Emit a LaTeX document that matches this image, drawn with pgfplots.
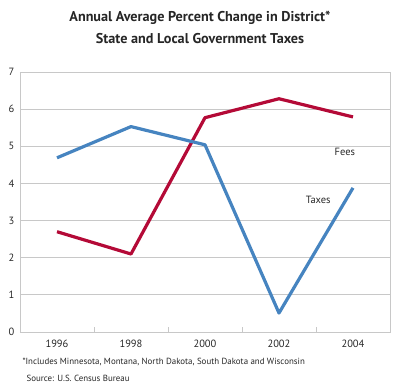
\documentclass[border=0pt]{standalone}
\usepackage{pgfplots}
\pgfplotsset{compat=1.18}
\usepackage{fontspec}
\setmainfont{PT Sans}
\definecolor{taxblue}{RGB}{70,132,192}
\definecolor{feered}{RGB}{180,10,55}
\definecolor{gridgray}{RGB}{200,200,200}
\begin{document}
\begin{tikzpicture}[x=1pt,y=1pt]
\useasboundingbox (0,0) rectangle (400,391);
\begin{axis}[
  at={(20pt,59pt)}, anchor=south west,
  scale only axis, width=370pt, height=260pt,
  xmin=-0.5, xmax=4.5, ymin=0, ymax=7,
  xtick={0,1,2,3,4},
  xticklabels={1996,1998,2000,2002,2004},
  ytick={0,1,...,7},
  major tick length=0pt,
  extra x ticks={0.5,1.5,2.5,3.5},
  extra x tick labels={},
  extra x tick style={major tick length=5pt, tick style={gridgray, line width=0.8pt}, xmajorgrids=false, tick pos=bottom, tick align=inside},
  ymajorgrids, grid style={gridgray, line width=0.8pt},
  axis line style={gridgray, line width=0.8pt},
  tick label style={font=\fontsize{10.5}{12}\selectfont, text=black!85},
  /pgf/number format/assume math mode=true,
  xticklabel style={yshift=-4pt},
  yticklabel style={xshift=-2pt},
  clip=false,
]
\addplot[feered, line width=3.2pt, line join=round] coordinates {(0,2.70) (1,2.10) (2,5.77) (3,6.28) (4,5.79)};
\addplot[taxblue, line width=3.2pt, line join=round] coordinates {(0,4.69) (1,5.53) (2,5.04) (3,0.51) (4,3.88)};
\node[font=\fontsize{10.5}{12}\selectfont, text=black!85] at (axis cs:3.89,4.85) {Fees};
\node[font=\fontsize{10.5}{12}\selectfont, text=black!85] at (axis cs:3.53,3.56) {Taxes};
\end{axis}
\node[font=\fontsize{14.2}{16}\selectfont\bfseries, text=black!85] at (200,373) {Annual Average Percent Change in District*};
\node[font=\fontsize{14.2}{16}\selectfont\bfseries, text=black!85] at (200,352) {State and Local Government Taxes};
\node[font=\fontsize{8.9}{10}\selectfont, text=black!85, anchor=west] at (19,29) {*Includes Minnesota, Montana, North Dakota, South Dakota and Wisconsin};
\node[font=\fontsize{8.9}{10}\selectfont, text=black!85, anchor=west] at (23,13) {Source: U.S. Census Bureau};
\end{tikzpicture}
\end{document}
